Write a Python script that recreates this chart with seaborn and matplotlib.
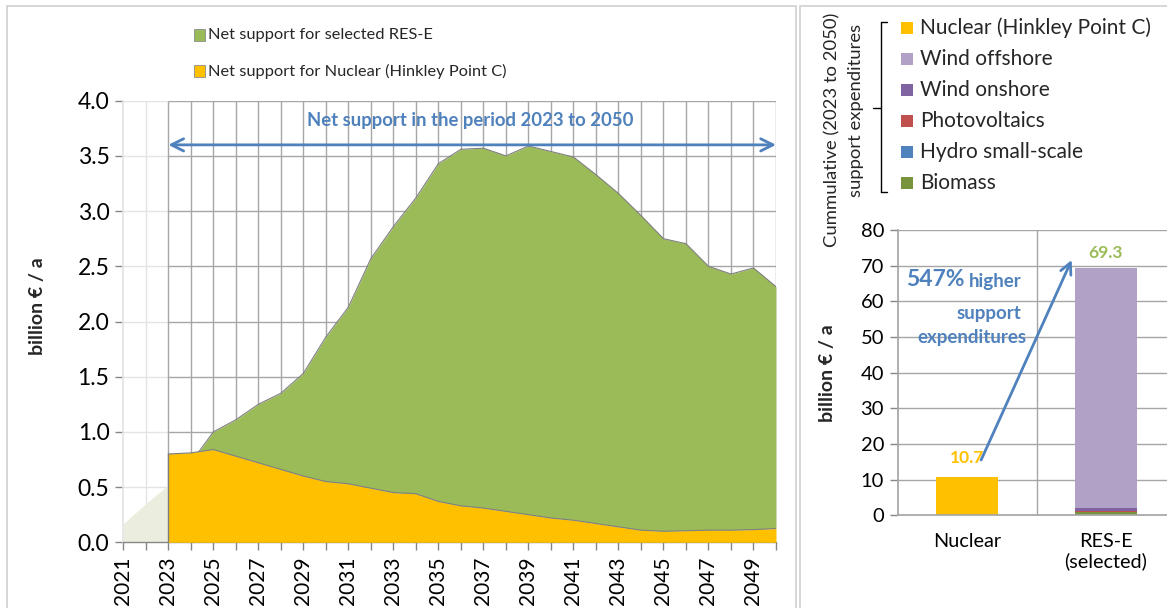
import matplotlib
matplotlib.use("Agg")
import matplotlib.pyplot as plt
from matplotlib.patches import Rectangle
from matplotlib.lines import Line2D
import numpy as np
import pandas as pd
import seaborn as sns

# --- data ---
pre_years = [2021, 2022, 2023]
pre_values = [0.17, 0.35, 0.52]

years = list(range(2023, 2051))
nuclear = [0.80, 0.81, 0.84, 0.78, 0.72, 0.66, 0.60, 0.55, 0.53, 0.49,
           0.45, 0.44, 0.37, 0.33, 0.31, 0.28, 0.25, 0.22, 0.20, 0.17,
           0.14, 0.11, 0.10, 0.105, 0.11, 0.11, 0.115, 0.125]
res_e = [0.00, -0.09, 0.16, 0.33, 0.53, 0.69, 0.93, 1.31, 1.60, 2.08,
         2.41, 2.68, 3.06, 3.23, 3.26, 3.22, 3.34, 3.32, 3.29, 3.16,
         3.02, 2.85, 2.65, 2.60, 2.39, 2.32, 2.37, 2.19]
area_labels = ["Net support for selected RES-E", "Net support for Nuclear (Hinkley Point C)"]

bar_categories = ["Nuclear", "RES-E\n(selected)"]
tech_names = ["Nuclear (Hinkley Point C)", "Wind offshore", "Wind onshore",
              "Photovoltaics", "Hydro small-scale", "Biomass"]
# cumulative 2023-2050, billion EUR, per category: [Nuclear, RES-E]
cum_nuclear = [10.7, 0.0]
cum_offshore = [0.0, 67.25]
cum_onshore = [0.0, 0.95]
cum_pv = [0.0, 0.05]
cum_hydro = [0.0, 0.05]
cum_biomass = [0.0, 1.0]
bar_totals = [10.7, 69.3]
increase_pct = 547

# --- styling ---
C_NUC = "#ffc000"
C_RES = "#9bbb59"
C_OFF = "#b2a1c7"
C_ON = "#8064a2"
C_PV = "#c0504d"
C_HYD = "#4f81bd"
C_BIO = "#77933c"
BLUE = "#4f81bd"
GRID = "#a6a6a6"
LIGHT = "#e4e4e4"
AXIS = "#868686"

sns.set_theme(style="white")
plt.rcParams["font.family"] = ["Lato", "DejaVu Sans"]

W, H = 1167, 608
fig = plt.figure(figsize=(W / 100, H / 100), dpi=100)


def fx(x):
    return x / W


def fy(y):
    return 1 - y / H


# panel frames
fig.add_artist(Rectangle((fx(7), fy(620)), fx(796 - 7), fy(6) - fy(620),
                         transform=fig.transFigure, fill=False, ec="#d0d0d0", lw=1.2))
fig.add_artist(Rectangle((fx(800), fy(620)), fx(400), fy(6) - fy(620),
                         transform=fig.transFigure, fill=False, ec="#d0d0d0", lw=1.2))

# ---------------- left: annual net support ----------------
ax = fig.add_axes([fx(123.3), fy(542.3), fx(776 - 123.3), fy(100.7) - fy(542.3)])
ax.set_xlim(2021, 2050)
ax.set_ylim(0, 4)

yt = np.arange(0, 4.01, 0.5)
ax.hlines(yt[1:], 2021, 2023, color=LIGHT, lw=1, zorder=0.5)
ax.hlines(yt[1:], 2023, 2050, color=GRID, lw=1, zorder=0.5)
ax.vlines([2022], 0, 4, color=LIGHT, lw=1, zorder=0.5)
ax.vlines(years, 0, 4, color=GRID, lw=1, zorder=0.5)

ax.fill_between(pre_years, 0, pre_values, color="#ebeedf", lw=0, zorder=1)

nuc = np.array(nuclear)
top = nuc + np.array(res_e)
ax.fill_between(years, nuc, top, color=C_RES, lw=0, zorder=2)
sns.lineplot(x=years, y=top, color="#7f7f7f", lw=0.8, ax=ax, zorder=2.1)
ax.fill_between(years, 0, nuc, color=C_NUC, lw=0, zorder=3)
sns.lineplot(x=years, y=nuc, color="#7f7f7f", lw=0.8, ax=ax, zorder=3.1)
ax.vlines([2023], 0, nuclear[0], color="#7f7f7f", lw=1, zorder=3.2)

ax.annotate("", xy=(2050, 3.6), xytext=(2023, 3.6),
            arrowprops=dict(arrowstyle="<->", color=BLUE, lw=2, mutation_scale=22,
                            shrinkA=0, shrinkB=0), zorder=5)
ax.text(2036.4, 3.82, "Net support in the period 2023 to 2050", ha="center", va="center",
        color=BLUE, fontweight="bold", fontsize=13.3, zorder=5)

ax.set_xticks(range(2021, 2051))
ax.set_xticklabels([str(y) if (y - 2021) % 2 == 0 else "" for y in range(2021, 2051)],
                   rotation=90, fontsize=15, color="black")
ax.set_yticks(yt)
ax.set_yticklabels([f"{v:.1f}" for v in yt], fontsize=16.5, color="black")
ax.tick_params(axis="both", which="major", direction="out", length=6, width=1,
               color=AXIS, pad=4, left=True, bottom=True)
for side in ["top", "right"]:
    ax.spines[side].set_visible(False)
ax.spines["left"].set_color(LIGHT)
ax.spines["bottom"].set_color(AXIS)
ax.spines["bottom"].set_linewidth(1)
ax.set_xlabel("")
ax.set_ylabel("")
ax.set_facecolor("none")
fig.text(fx(37), fy(306), "billion € / a", rotation=90, ha="center", va="center",
         fontsize=14, fontweight="bold")

# top legend
for i, (lab, col) in enumerate(zip(area_labels, [C_RES, C_NUC])):
    yc = 35 + 36 * i
    fig.add_artist(Rectangle((fx(194), fy(yc + 6)), fx(11), fy(yc - 6) - fy(yc + 6),
                             transform=fig.transFigure, fc=col, ec="#8c8c8c", lw=0.6))
    fig.text(fx(208), fy(yc), lab, ha="left", va="center", fontsize=11.8)

# ---------------- right: cumulative bars ----------------
ax2 = fig.add_axes([fx(898), fy(515.3), fx(1175 - 898), fy(230) - fy(515.3)])
ax2.set_xlim(-0.5, 1.5)
ax2.set_ylim(0, 80)
ax2.set_facecolor("none")
for v in range(10, 81, 10):
    ax2.axhline(v, color=GRID, lw=1, zorder=0.5)
ax2.axvline(0.5, color=GRID, lw=1, zorder=0.5)

xpos = np.arange(len(bar_categories))
bw = 0.45
stack = [(cum_biomass, C_BIO), (cum_hydro, C_HYD), (cum_pv, C_PV),
         (cum_onshore, C_ON), (cum_offshore, C_OFF), (cum_nuclear, C_NUC)]
bottom = np.zeros(len(bar_categories))
for vals, col in stack:
    ax2.bar(xpos, vals, bw, bottom=bottom, color=col, lw=0, zorder=2)
    bottom += np.array(vals)

ax2.text(0, bar_totals[0] + 5.4, f"{bar_totals[0]:.1f}", ha="center", va="center",
         color=C_NUC, fontweight="bold", fontsize=12.5, zorder=4)
ax2.text(1, bar_totals[1] + 4.3, f"{bar_totals[1]:.1f}", ha="center", va="center",
         color=C_RES, fontweight="bold", fontsize=12.5, zorder=4)

ax2.annotate("", xy=(0.754, 71.6), xytext=(0.10, 15.5),
             arrowprops=dict(arrowstyle="->", color=BLUE, lw=2, mutation_scale=20,
                             shrinkA=0, shrinkB=0), zorder=5)
t_high = ax2.text(0.39, 64.0, "higher", ha="right", va="baseline", color=BLUE,
                  fontweight="bold", fontsize=13.5, zorder=5)
ax2.annotate(f"{increase_pct}%", xy=(0, 0.22), xycoords=t_high, xytext=(-3, 0),
             textcoords="offset points", ha="right", va="baseline", color=BLUE,
             fontweight="bold", fontsize=16.5, zorder=5)
ax2.text(0.39, 56.7, "support", ha="right", va="center", color=BLUE,
         fontweight="bold", fontsize=13.5, zorder=5)
ax2.text(0.428, 49.8, "expenditures", ha="right", va="center", color=BLUE,
         fontweight="bold", fontsize=13.5, zorder=5)

ax2.set_yticks(range(0, 81, 10))
ax2.set_yticklabels([str(v) for v in range(0, 81, 10)], fontsize=14.5, color="black")
ax2.set_xticks(xpos)
ax2.set_xticklabels(bar_categories, fontsize=14.3, color="black", linespacing=1.1)
ax2.set_xticks([-0.5, 0.5], minor=True)
ax2.tick_params(axis="x", which="major", length=0, pad=13)
ax2.tick_params(axis="x", which="minor", direction="out", length=6, width=1, color=GRID)
ax2.tick_params(axis="y", direction="out", length=6, width=1, color=AXIS, pad=4, left=True)
for side in ["top", "right"]:
    ax2.spines[side].set_visible(False)
ax2.spines["left"].set_color(GRID)
ax2.spines["bottom"].set_color(GRID)
ax2.set_xlabel("")
ax2.set_ylabel("")
fig.text(fx(828), fy(373), "billion € / a", rotation=90, ha="center", va="center",
         fontsize=14, fontweight="bold")

# right legend
leg_colors = [C_NUC, C_OFF, C_ON, C_PV, C_HYD, C_BIO]
for i, (lab, col) in enumerate(zip(tech_names, leg_colors)):
    yc = 28 + 31 * i
    fig.add_artist(Rectangle((fx(901), fy(yc + 6)), fx(12), fy(yc - 6) - fy(yc + 6),
                             transform=fig.transFigure, fc=col, lw=0))
    fig.text(fx(920), fy(yc), lab, ha="left", va="center", fontsize=15)

# bracket and rotated caption
for xs, ys in [([881, 881], [22, 192]), ([881, 887], [22, 22]), ([881, 887], [192, 192]),
               ([873, 881], [108, 108])]:
    fig.add_artist(Line2D([fx(x) for x in xs], [fy(y) for y in ys],
                          transform=fig.transFigure, color="black", lw=1))
fig.text(fx(832), fy(247), "Cummulative (2023 to 2050)", rotation=90, ha="center",
         va="bottom", fontsize=13.3)
fig.text(fx(856), fy(197), "support expenditures", rotation=90, ha="center",
         va="bottom", fontsize=13.3)

fig.savefig("out.png", dpi=100)
